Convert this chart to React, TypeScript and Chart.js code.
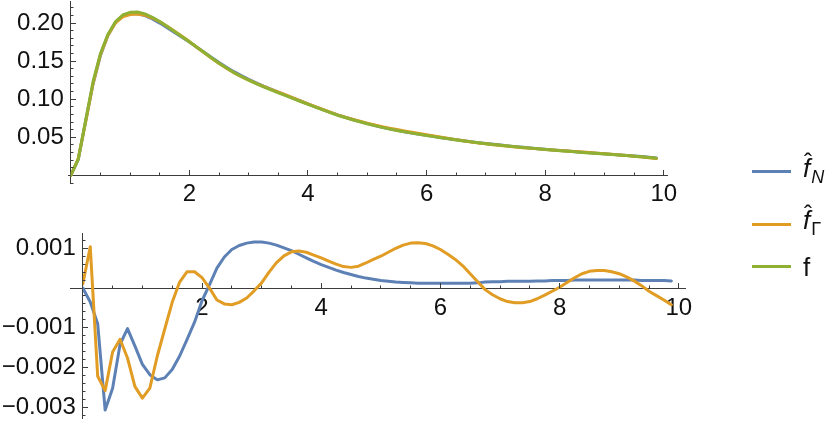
import React, { useEffect, useRef } from "react";
import { Chart, registerables } from "chart.js";

Chart.register(...registerables);

// ---------- data (sample grid step 0.125) ----------
const X = [
  0, 0.125, 0.25, 0.375, 0.5, 0.625, 0.75, 0.875,
  1, 1.125, 1.25, 1.375, 1.5, 1.625, 1.75, 1.875,
  2, 2.125, 2.25, 2.375, 2.5, 2.625, 2.75, 2.875,
  3, 3.125, 3.25, 3.375, 3.5, 3.625, 3.75, 3.875,
  4, 4.125, 4.25, 4.375, 4.5, 4.625, 4.75, 4.875,
  5, 5.125, 5.25, 5.375, 5.5, 5.625, 5.75, 5.875,
  6, 6.125, 6.25, 6.375, 6.5, 6.625, 6.75, 6.875,
  7, 7.125, 7.25, 7.375, 7.5, 7.625, 7.75, 7.875,
  8, 8.125, 8.25, 8.375, 8.5, 8.625, 8.75, 8.875,
  9, 9.125, 9.25, 9.375, 9.5, 9.625, 9.75, 9.875,
];

// exact density f
const F = [
  0, 0.021, 0.072, 0.123, 0.16, 0.185, 0.2015, 0.2105,
  0.214, 0.2144, 0.212, 0.2076, 0.202, 0.1955, 0.1888, 0.1821,
  0.1754, 0.1682, 0.1612, 0.154, 0.1472, 0.141, 0.135, 0.1298,
  0.125, 0.1205, 0.1162, 0.1122, 0.1084, 0.1046, 0.1008, 0.097,
  0.0932, 0.0895, 0.0859, 0.0824, 0.079, 0.076, 0.0731, 0.0704,
  0.0678, 0.0653, 0.063, 0.0609, 0.059, 0.0572, 0.0555, 0.0539,
  0.0524, 0.0509, 0.0494, 0.048, 0.0466, 0.0453, 0.044, 0.0428,
  0.0417, 0.0406, 0.0396, 0.0386, 0.0376, 0.0367, 0.0358, 0.0349,
  0.0341, 0.0333, 0.0325, 0.0317, 0.031, 0.0302, 0.0295, 0.0288,
  0.0281, 0.0274, 0.0267, 0.026, 0.0252, 0.0245, 0.0236, 0.0226,
];

// error of the approximation f_N (f_N - f)
const ERR_N = [
  0, -0.00035, -0.0009, -0.00307, -0.00252, -0.00142, -0.00102, -0.00146,
  -0.00192, -0.00218, -0.00231, -0.00226, -0.00205, -0.00171, -0.00129, -0.00086,
  -0.00032, 0.00008, 0.0005, 0.00078, 0.00097, 0.00107, 0.00113, 0.00116,
  0.00116, 0.00113, 0.00108, 0.00101, 0.00094, 0.00085, 0.00076, 0.00067,
  0.00059, 0.00052, 0.00045, 0.00039, 0.00034, 0.00029, 0.00025, 0.00022,
  0.00019, 0.00017, 0.00015, 0.00014, 0.00013, 0.00012, 0.00012, 0.00012,
  0.00012, 0.00012, 0.00012, 0.00012, 0.00012, 0.00013, 0.00015, 0.00016,
  0.00016, 0.00017, 0.00017, 0.00017, 0.00017, 0.00018, 0.00018, 0.00019,
  0.00019, 0.00019, 0.0002, 0.0002, 0.0002, 0.0002, 0.0002, 0.0002,
  0.0002, 0.0002, 0.0002, 0.00019, 0.00019, 0.00019, 0.00019, 0.00018,
];

// error of the approximation f_Gamma (f_Gamma - f)
const ERR_G = [
  0.0001, 0.00104, -0.00222, -0.00258, -0.00161, -0.00129, -0.00176, -0.00248,
  -0.00277, -0.00252, -0.00171, -0.00103, -0.00036, 0.00015, 0.00041, 0.00041,
  0.00026, 0.0, -0.0003, -0.0004, -0.00042, -0.00036, -0.00025, -0.00007,
  0.00013, 0.0004, 0.00064, 0.00081, 0.00091, 0.00093, 0.0009, 0.00083,
  0.00076, 0.00068, 0.0006, 0.00054, 0.00052, 0.00055, 0.00063, 0.00072,
  0.0008, 0.0009, 0.001, 0.00108, 0.00113, 0.00114, 0.00112, 0.00106,
  0.00097, 0.00085, 0.00072, 0.00056, 0.00036, 0.00016, -0.00004, -0.00017,
  -0.00027, -0.00034, -0.00037, -0.00037, -0.00034, -0.00027, -0.00018, -0.00008,
  0.00002, 0.00014, 0.00026, 0.00036, 0.00042, 0.00044, 0.00044, 0.00041,
  0.00036, 0.00028, 0.00018, 0.00006, -0.00008, -0.00019, -0.0003, -0.00042,
];

// approximations shown in the upper panel
const F_N = F.map((v, i) => v + ERR_N[i]);
const F_G = F.map((v, i) => v + ERR_G[i]);

// ---------- styles ----------
const BLUE = "#5E81B5";
const ORANGE = "#E19C24";
const GREEN = "#8FB032";
const AXIS_COLOR = "#3c3c3c";
const LABEL_COLOR = "#111111";
const FONT_FAMILY = "'Liberation Sans', Arial, Helvetica, sans-serif";

Chart.defaults.font.family = FONT_FAMILY;

const pts = (ys: number[]) => X.map((x, i) => ({ x, y: ys[i] }));

const line = (label: string, ys: number[], color: string) => ({
  label,
  data: pts(ys),
  borderColor: color,
  backgroundColor: color,
  borderWidth: 3,
  pointRadius: 0,
  tension: 0,
  fill: false,
  borderJoinStyle: "round" as const,
  borderCapStyle: "round" as const,
});

// Mathematica-style inward ticks, minor + major
const mmaTicks = {
  id: "mmaTicks",
  afterDraw(chart: any, _args: any, opts: any) {
    const { ctx } = chart;
    const xs = chart.scales.x;
    const ys = chart.scales.y;
    const align = (p: number) => Math.round(p - 0.5) + 0.5;
    const y0 = align(ys.getPixelForValue(0));
    const x0 = align(xs.getPixelForValue(0));
    ctx.save();
    ctx.strokeStyle = AXIS_COLOR;
    ctx.lineWidth = 1;
    ctx.beginPath();
    // part of the x axis left of the y axis
    ctx.moveTo(xs.getPixelForValue(opts.xAxisFrom), y0);
    ctx.lineTo(x0, y0);
    const each = (min: number, max: number, minor: number, major: number, draw: (v: number, len: number) => void) => {
      const k0 = Math.ceil(min / minor - 1e-6);
      const k1 = Math.floor(max / minor + 1e-6);
      for (let k = k0; k <= k1; k++) {
        if (k === 0) continue;
        const v = k * minor;
        const r = v / major;
        const isMajor = Math.abs(r - Math.round(r)) < 1e-6;
        draw(v, isMajor ? 5.5 : 3);
      }
    };
    each(xs.min, xs.max, opts.xMinor, opts.xMajor, (v, len) => {
      const px = align(xs.getPixelForValue(v));
      ctx.moveTo(px, y0);
      ctx.lineTo(px, y0 - len);
    });
    each(ys.min, ys.max, opts.yMinor, opts.yMajor, (v, len) => {
      const py = align(ys.getPixelForValue(v));
      ctx.moveTo(x0, py);
      ctx.lineTo(x0 + len, py);
    });
    ctx.stroke();
    ctx.restore();
  },
};

const zeroPad = (scale: any) => {
  scale.paddingLeft = 0;
  scale.paddingRight = 0;
  scale.paddingTop = 0;
  scale.paddingBottom = 0;
};

const tickFont = { family: FONT_FAMILY, size: 24 };

function makeConfig(
  datasets: any[],
  pad: { top: number; right: number; bottom: number },
  yWidth: number,
  xMax: number,
  yMin: number,
  yMax: number,
  yStep: number,
  yFmt: (v: number) => string,
  xLabelPad: number,
  tickOpts: any
) {
  return {
    type: "line" as const,
    data: { datasets },
    plugins: [mmaTicks],
    options: {
      responsive: false,
      animation: false as const,
      events: [] as any[],
      layout: { padding: { left: 0, top: pad.top, right: pad.right, bottom: pad.bottom } },
      plugins: {
        legend: { display: false },
        tooltip: { enabled: false },
        mmaTicks: tickOpts,
      },
      scales: {
        x: {
          type: "linear" as const,
          min: 0,
          max: xMax,
          position: { y: 0 },
          afterFit: zeroPad,
          grid: { display: true, drawOnChartArea: false, drawTicks: false },
          border: { display: true, color: AXIS_COLOR, width: 1 },
          ticks: {
            stepSize: 2,
            includeBounds: false,
            autoSkip: false,
            maxRotation: 0,
            minRotation: 0,
            padding: xLabelPad,
            color: LABEL_COLOR,
            font: tickFont,
            callback: (v: any) => (Math.abs(Number(v)) < 1e-9 ? "" : String(Math.round(Number(v)))),
          },
        },
        y: {
          type: "linear" as const,
          min: yMin,
          max: yMax,
          position: "left" as const,
          afterFit: (s: any) => {
            zeroPad(s);
            s.width = yWidth;
          },
          grid: { display: true, drawOnChartArea: false, drawTicks: false },
          border: { display: true, color: AXIS_COLOR, width: 1 },
          ticks: {
            stepSize: yStep,
            includeBounds: false,
            autoSkip: false,
            padding: 7,
            color: LABEL_COLOR,
            font: tickFont,
            callback: (v: any) => yFmt(Number(v)),
          },
        },
      },
    },
  };
}

const fmtTop = (v: number) => (Math.abs(v) < 1e-9 ? "" : v.toFixed(2));
const fmtBottom = (v: number) => {
  const k = Math.round(v * 1000);
  if (k === 0) return "";
  return (k < 0 ? "\u2212" : "") + "0.00" + Math.abs(k);
};

export default function App() {
  const topRef = useRef<HTMLCanvasElement | null>(null);
  const botRef = useRef<HTMLCanvasElement | null>(null);

  useEffect(() => {
    const top = new Chart(
      topRef.current as HTMLCanvasElement,
      makeConfig(
        [line("f", F, GREEN), line("f\u0302 \u0393", F_G, ORANGE), line("f\u0302 N", F_N, BLUE)],
        { top: 1.7, right: 163, bottom: 237.9 },
        70.8,
        10.054,
        -0.0101,
        0.228,
        0.05,
        fmtTop,
        5,
        { xAxisFrom: -0.047, xMinor: 0.5, xMajor: 2, yMinor: 0.01, yMajor: 0.05 }
      ) as any
    );
    const bottom = new Chart(
      botRef.current as HTMLCanvasElement,
      makeConfig(
        [line("f\u0302 \u0393 \u2212 f", ERR_G, ORANGE), line("f\u0302 N \u2212 f", ERR_N, BLUE)],
        { top: 233.3, right: 145, bottom: 2.5 },
        82.8,
        10.104,
        -0.003282,
        0.001377,
        0.001,
        fmtBottom,
        6.4,
        { xAxisFrom: -0.215, xMinor: 0.5, xMajor: 2, yMinor: 0.0002, yMajor: 0.001 }
      ) as any
    );
    return () => {
      top.destroy();
      bottom.destroy();
    };
  }, []);

  const lineStyle = (color: string, y: number): React.CSSProperties => ({
    position: "absolute",
    left: 752,
    top: y - 1.5,
    width: 39,
    height: 3,
    background: color,
  });
  const textStyle = (y: number): React.CSSProperties => ({
    position: "absolute",
    left: 803,
    top: y,
    fontSize: 26,
    lineHeight: "26px",
    whiteSpace: "nowrap",
    color: "#111",
  });
  const hatF = (
    <span style={{ position: "relative", display: "inline-block", fontStyle: "italic" }}>
      f
      <span style={{ position: "absolute", left: 1, top: -6, fontStyle: "normal", fontSize: 24 }}>
        {"\u02C6"}
      </span>
    </span>
  );

  return (
    <div
      style={{
        position: "absolute",
        left: 0,
        top: 0,
        width: 830,
        height: 421,
        overflow: "hidden",
        background: "#ffffff",
        fontFamily: FONT_FAMILY,
      }}
    >
      <canvas ref={topRef} width={830} height={421} style={{ position: "absolute", left: 0, top: 0 }} />
      <canvas ref={botRef} width={830} height={421} style={{ position: "absolute", left: 0, top: 0 }} />
      <div style={lineStyle(BLUE, 171.7)} />
      <div style={textStyle(155)}>
        {hatF}
        <span style={{ fontStyle: "italic", fontSize: 18, position: "relative", top: 6, marginLeft: 1 }}>N</span>
      </div>
      <div style={lineStyle(ORANGE, 224)} />
      <div style={textStyle(207)}>
        {hatF}
        <span style={{ fontSize: 18, position: "relative", top: 6, marginLeft: 1 }}>{"\u0393"}</span>
      </div>
      <div style={lineStyle(GREEN, 266.7)} />
      <div style={textStyle(254.3)}>f</div>
    </div>
  );
}
